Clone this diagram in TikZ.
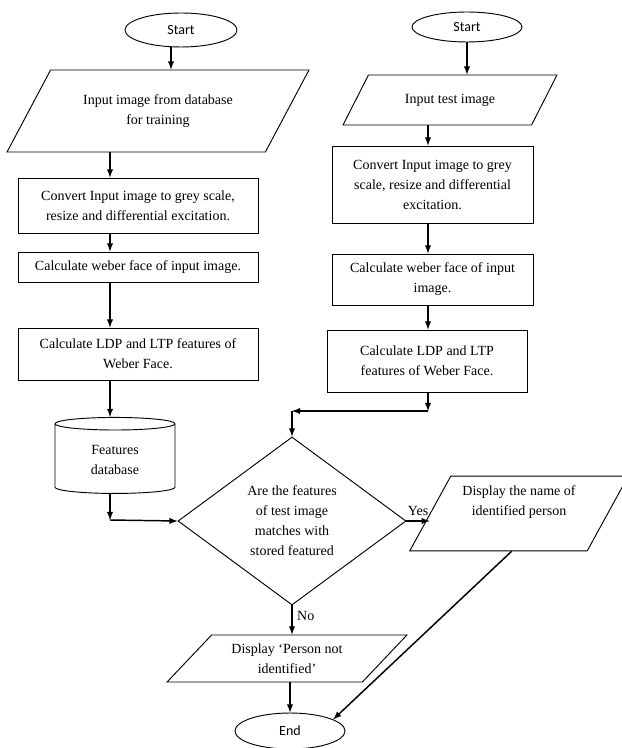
\documentclass[tikz,border=0pt]{standalone}
\usepackage{fontspec}
\setmainfont{Liberation Serif}
\newfontfamily\calfont{Carlito}
\usetikzlibrary{shapes.geometric}

\tikzstyle{block} = [rectangle, draw, align=center, inner sep=2pt]
\tikzstyle{io} = [trapezium, draw, align=center, trapezium stretches=true, inner sep=1pt]
\tikzstyle{term} = [ellipse, draw, font=\calfont\fontsize{10.5}{12}\selectfont]
\tikzstyle{store} = [cylinder, draw, shape border rotate=90, aspect=0.22, align=center]
\tikzstyle{decide} = [diamond, draw, align=center, aspect=1.36, inner sep=0pt]
\tikzstyle{line} = [draw, ->, >=latex, line width=1.1pt]

\begin{document}
\begin{tikzpicture}[x=0.75pt,y=-0.75pt,line width=0.7pt,
                    font=\fontsize{10.5}{15}\selectfont]
  \useasboundingbox (0,0) rectangle (621,748);

  % training side
  \node[term]  (startL) at (181,30)  [minimum width=84pt, minimum height=25.5pt] {Start};
  \node[io, trapezium left angle=49, trapezium right angle=131,
        minimum width=226.5pt, minimum height=61.5pt]
               (inL)    at (158,111) {Input image from database\\for training};
  \node[block] (convL)  at (138,205.5) [minimum width=180pt, minimum height=41.25pt]
               {Convert Input image to grey scale,\\resize and differential excitation.};
  \node[block] (webL)   at (138,267) [minimum width=180pt, minimum height=22.5pt]
               {Calculate weber face of input image.};
  \node[block] (ldpL)   at (138,354) [minimum width=180pt, minimum height=39pt]
               {Calculate LDP and LTP features of\\Weber Face.};
  \node[store] (db)     at (115,460) [minimum width=90pt, minimum height=57pt]
               {Features\\database};

  % testing side
  \node[term]  (startR) at (467,27)  [minimum width=82.5pt, minimum height=22.5pt] {Start};
  \node[io, trapezium left angle=46, trapezium right angle=134,
        minimum width=161.25pt, minimum height=37.5pt]
               (inR)    at (450,100) {Input test image};
  \node[block] (convR)  at (432.5,184.5) [minimum width=150.75pt, minimum height=57.75pt]
               {Convert Input image to grey\\scale, resize and differential\\excitation.};
  \node[block] (webR)   at (432.5,279.5) [minimum width=150.75pt, minimum height=38.25pt]
               {Calculate weber face of input\\image.};
  \node[block] (ldpR)   at (427,361) [minimum width=150pt, minimum height=46.5pt]
               {Calculate LDP and LTP\\features of Weber Face.};

  % matching
  \node[decide] (dec)   at (292,521) [minimum width=171pt, minimum height=126pt]
               {Are the features\\of test image\\matches with\\stored featured};
  \node[io, trapezium left angle=59, trapezium right angle=121,
        minimum width=164pt, minimum height=56pt]
               (showR)  at (519,513.5) {Display the name of\\identified person\\[4pt]};
  \node[io, trapezium left angle=44, trapezium right angle=136,
        minimum width=180pt, minimum height=35.25pt]
               (showN)  at (287,658.5) {Display `Person not\\identified'};
  \node[term]  (endN)   at (290,731) [minimum width=82.5pt, minimum height=27pt] {End};

  \coordinate (aL) at (110,0);
  \coordinate (aR) at (428,0);
  \coordinate (jL) at (110,520);
  \coordinate (jR) at (428,411);
  \coordinate (jD) at (292,411);

  \path[line] (startL.south -| 171,0) -- (inL.north -| 171,0);
  \path[line] (inL.south -| aL) -- (convL.north -| aL);
  \path[line] (convL.south -| aL) -- (webL.north -| aL);
  \path[line] (webL.south -| aL) -- (ldpL.north -| aL);
  \path[line] (ldpL.south -| aL) -- (db.north -| aL);
  \path[line] (db.south -| aL) -- (jL);
  \path[line] (jL) -- (dec.west);

  \path[line] (startR.south) -- (inR.north -| startR);
  \path[line] (inR.south -| aR) -- (convR.north -| aR);
  \path[line] (convR.south -| aR) -- (webR.north -| aR);
  \path[line] (webR.south -| aR) -- (ldpR.north -| aR);
  \path[line] (ldpR.south -| aR) -- (jR);
  \path[line] (jR) -- (jD);
  \path[line] (jD) -- (dec.north);

  \path[line] (dec.east) -- node[above] {Yes} (showR.left side |- dec.east);
  \path[line] (dec.south) -- node[right, pos=0.35] {No} (dec.south |- showN.north);
  \path[line] (endN |- showN.south) -- (endN.north);
  \path[line] ([xshift=10pt]showR.bottom side) -- (endN.15);
\end{tikzpicture}
\end{document}
